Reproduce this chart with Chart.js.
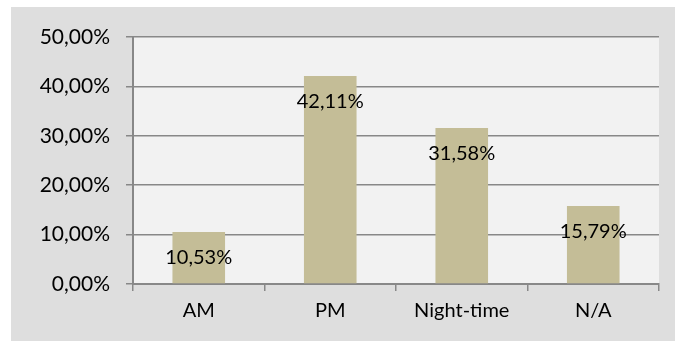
<!DOCTYPE html>
<html>
<head>
<meta charset="utf-8">
<script src="https://cdn.jsdelivr.net/npm/chart.js@4/dist/chart.umd.min.js"></script>
<style>
  html, body { margin: 0; padding: 0; background: #ffffff; }
  #frame {
    position: absolute; left: 11px; top: 7px;
    width: 664px; height: 334px; background: #dedede;
  }
  canvas { display: block; }
</style>
</head>
<body>
<div id="frame"><canvas id="chart" width="664" height="334"></canvas></div>
<script>
// Share of cases by time of day
const categories = ['AM', 'PM', 'Night-time', 'N/A'];
const shares = [10.53, 42.11, 31.58, 15.79];
const yTicks = [0, 10, 20, 30, 40, 50];

const fmt = v => v.toFixed(2).replace('.', ',') + '%';
const FONT = 'Lato, "Open Sans", sans-serif';
const GRID = '#888888';

// Light panel behind the plotting area
const plotBackground = {
  id: 'plotBackground',
  beforeDraw(chart) {
    const { ctx, chartArea: a } = chart;
    ctx.save();
    ctx.fillStyle = '#f2f2f2';
    ctx.fillRect(a.left, a.top, a.right - a.left, a.bottom - a.top);
    ctx.restore();
  }
};

// Value labels placed just inside the top of each bar
const valueLabels = {
  id: 'valueLabels',
  afterDatasetsDraw(chart) {
    const { ctx } = chart;
    const meta = chart.getDatasetMeta(0);
    ctx.save();
    ctx.font = '20px ' + FONT;
    ctx.fillStyle = '#000000';
    ctx.textAlign = 'center';
    ctx.textBaseline = 'middle';
    meta.data.forEach((bar, i) => {
      ctx.fillText(fmt(shares[i]), bar.x, bar.y + 26);
    });
    ctx.restore();
  }
};

new Chart(document.getElementById('chart'), {
  type: 'bar',
  data: {
    labels: categories,
    datasets: [{
      data: shares,
      backgroundColor: '#c4bd97',
      borderWidth: 0,
      barPercentage: 0.4,
      categoryPercentage: 1
    }]
  },
  options: {
    responsive: false,
    animation: false,
    devicePixelRatio: 1,
    layout: { padding: { left: 0, top: 30, right: 16, bottom: 0 } },
    plugins: {
      legend: { display: false },
      tooltip: { enabled: false }
    },
    scales: {
      x: {
        grid: {
          offset: true,
          drawOnChartArea: false,
          drawTicks: true,
          tickLength: 7,
          color: GRID,
          lineWidth: 1.5
        },
        border: { color: GRID, width: 2 },
        ticks: {
          color: '#000000',
          font: { family: FONT, size: 20 },
          padding: 8
        },
        afterFit(scale) { scale.height = 57; }
      },
      y: {
        min: 0,
        max: 50,
        afterBuildTicks(scale) { scale.ticks = yTicks.map(v => ({ value: v })); },
        grid: {
          color: GRID,
          lineWidth: 1.5,
          drawTicks: true,
          tickLength: 7
        },
        border: { color: GRID, width: 2 },
        ticks: {
          color: '#000000',
          font: { family: FONT, size: 21 },
          padding: 16,
          callback: v => fmt(v)
        },
        afterFit(scale) { scale.width = 122; }
      }
    }
  },
  plugins: [plotBackground, valueLabels]
});
</script>
</body>
</html>
